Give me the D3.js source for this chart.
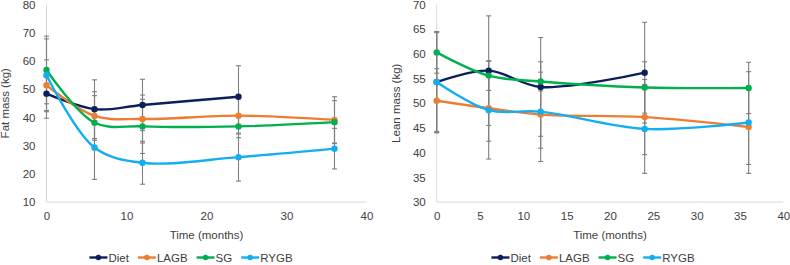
<!DOCTYPE html>
<html>
<head>
<meta charset="utf-8">
<script src="https://cdn.jsdelivr.net/npm/d3@7"></script>
<style>
  body { margin: 0; background: #fff; }
  svg { display: block; font-family: "Liberation Sans", Arial, sans-serif; }
  .tick text { fill: #404040; font-size: 11.5px; }
</style>
</head>
<body>
<div id="chart"></div>
<script>
// groups and time points
const groups = ["Diet", "LAGB", "SG", "RYGB"];
const colors = ["#0b1f5c", "#ed7d31", "#00b04f", "#13aef0"];
const months = [0, 6, 12, 24, 36];

// fat mass (kg), mean and SD per time point
const fatDiet = [48.4, 42.9, 44.4, 47.3];
const fatDietSd = [8.7, 10.4, 9.1, 11.0];
const fatLagb = [51.4, 40.5, 39.4, 40.6, 39.1];
const fatLagbSd = [9.0, 8.6, 8.5, 6.5, 8.2];
const fatSg = [56.8, 38.1, 36.8, 36.8, 38.3];
const fatSgSd = [12.0, 9.6, 9.6, 4.0, 7.6];
const fatRygb = [54.9, 29.3, 23.9, 25.9, 28.9];
const fatRygbSd = [12.9, 11.3, 7.6, 8.5, 7.2];

// lean mass (kg)
const leanDiet = [54.3, 56.6, 53.3, 56.2];
const leanDietSd = [10.2, 11.1, 10.0, 10.2];
const leanLagb = [50.5, 49.0, 47.7, 47.2, 45.2];
const leanLagbSd = [6.5, 6.7, 6.8, 7.6, 7.6];
const leanSg = [60.3, 55.6, 54.4, 53.2, 53.1];
const leanSgSd = [4.2, 3.0, 1.9, 5.2, 5.2];
const leanRygb = [54.3, 48.6, 48.3, 44.8, 46.1];
const leanRygbSd = [10.0, 9.9, 10.1, 9.0, 10.3];

const W = 790, H = 265;
const svg = d3.select("#chart").append("svg").attr("width", W).attr("height", H);

function series(means, sds) {
  return means.map((m, i) => ({ t: months[i], v: m, sd: sds[i] }));
}

function drawPanel(opt) {
  const x = d3.scaleLinear().domain([0, 40]).range([opt.x0, opt.x1]);
  const y = d3.scaleLinear().domain(opt.yDomain).range([202, 4.5]);
  const g = svg.append("g");

  // axis lines
  g.append("line").attr("x1", x(0)).attr("x2", x(0)).attr("y1", y.range()[1]).attr("y2", y.range()[0])
    .attr("stroke", "#d9d9d9").attr("stroke-width", 1);
  g.append("line").attr("x1", x(0)).attr("x2", x(40)).attr("y1", y.range()[0]).attr("y2", y.range()[0])
    .attr("stroke", "#d9d9d9").attr("stroke-width", 1);

  const yAxis = g.append("g").attr("transform", `translate(${x(0)},0)`)
    .call(d3.axisLeft(y).tickValues(opt.yTicks).tickSize(0).tickPadding(11));
  yAxis.select(".domain").remove();
  const xAxis = g.append("g").attr("transform", `translate(0,${y.range()[0]})`)
    .call(d3.axisBottom(x).tickValues(opt.xTicks).tickSize(0).tickPadding(10));
  xAxis.select(".domain").remove();

  g.append("text").attr("x", (x(0) + x(40)) / 2).attr("y", 239).attr("text-anchor", "middle")
    .attr("fill", "#404040").style("font-size", "11.5px").text("Time (months)");
  g.append("text").attr("transform", `translate(${opt.titleX},${(y.range()[0] + y.range()[1]) / 2}) rotate(-90)`)
    .attr("text-anchor", "middle").attr("fill", "#404040").style("font-size", "11.5px").text(opt.yTitle);

  const line = d3.line().x(d => x(d.t)).y(d => y(d.v)).curve(d3.curveCatmullRom.alpha(0.5));

  // error bars first
  opt.data.forEach(s => {
    const eb = g.append("g").attr("stroke", "#7f7f7f").attr("stroke-width", 1.1);
    s.forEach(d => {
      eb.append("line").attr("x1", x(d.t)).attr("x2", x(d.t)).attr("y1", y(d.v - d.sd)).attr("y2", y(d.v + d.sd));
      [d.v - d.sd, d.v + d.sd].forEach(e => {
        eb.append("line").attr("x1", x(d.t) - 2.5).attr("x2", x(d.t) + 2.5).attr("y1", y(e)).attr("y2", y(e));
      });
    });
  });

  opt.data.forEach((s, i) => {
    g.append("path").datum(s).attr("d", line).attr("fill", "none")
      .attr("stroke", colors[i]).attr("stroke-width", 2.4);
    g.selectAll(null).data(s).join("circle")
      .attr("cx", d => x(d.t)).attr("cy", d => y(d.v)).attr("r", 3.2).attr("fill", colors[i]);
  });

  // legend, centered on the panel
  const lg = g.append("g");
  let lx = 0;
  groups.forEach((name, i) => {
    const it = lg.append("g").attr("transform", `translate(${lx},0)`);
    it.append("line").attr("x1", 0).attr("x2", 18).attr("y1", 0).attr("y2", 0)
      .attr("stroke", colors[i]).attr("stroke-width", 2.4);
    it.append("circle").attr("cx", 9).attr("cy", 0).attr("r", 2.8).attr("fill", colors[i]);
    const t = it.append("text").attr("x", 19).attr("y", 4).attr("fill", "#404040")
      .style("font-size", "11.5px").text(name);
    lx += 19 + t.node().getComputedTextLength() + 9;
  });
  lx -= 9;
  lg.attr("transform", `translate(${opt.legendCenter - lx / 2},257.5)`);
}

drawPanel({
  x0: 46.5, x1: 366.5, yDomain: [10, 80],
  yTicks: d3.range(10, 81, 10), xTicks: d3.range(0, 41, 10),
  yTitle: "Fat mass (kg)", titleX: 9, legendCenter: 191,
  data: [series(fatDiet, fatDietSd), series(fatLagb, fatLagbSd), series(fatSg, fatSgSd), series(fatRygb, fatRygbSd)]
});

drawPanel({
  x0: 436.7, x1: 783.3, yDomain: [30, 70],
  yTicks: d3.range(30, 71, 5), xTicks: d3.range(0, 41, 5),
  yTitle: "Lean mass (kg)", titleX: 400, legendCenter: 593,
  data: [series(leanDiet, leanDietSd), series(leanLagb, leanLagbSd), series(leanSg, leanSgSd), series(leanRygb, leanRygbSd)]
});
</script>
</body>
</html>
